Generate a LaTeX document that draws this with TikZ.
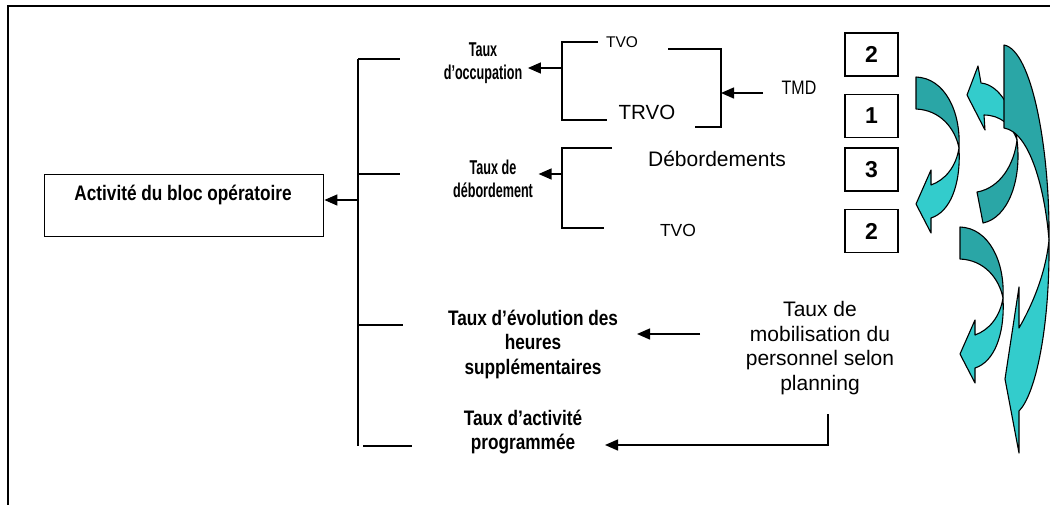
\documentclass[tikz,border=0pt]{standalone}
\usepackage{fontspec}
\setmainfont{Liberation Sans}
\newfontfamily\narrowfont[FakeStretch=0.82]{Liberation Sans}
\newfontfamily\condfont[FakeStretch=0.63]{Liberation Sans}
\usetikzlibrary{arrows.meta}
\definecolor{tealdark}{RGB}{42,166,166}
\definecolor{teallight}{RGB}{51,204,204}

\tikzset{
  curlarrow/.pic={
    % back face
    \filldraw[fill=tealdark,flap] (0,0) .. controls (29,1) and (45,35) .. (43,71)
      .. controls (39,51) and (24,33) .. (0,32) -- cycle;
    % front face with head
    \filldraw[fill=teallight,flap] (43,71) .. controls (45,108) and (34,135) .. (15,141)
      -- (15,156) -- (0,127) -- (15,93) -- (15,108)
      .. controls (29,103) and (40,90) .. (43,71) -- cycle;
  }
}

\begin{document}
\begin{tikzpicture}[x=1pt,y=-1pt,line width=1.4pt,
    lbl/.style={font=\narrowfont\bfseries\fontsize{21}{24.5}\selectfont,align=center,inner sep=0pt},
    small/.style={font=\condfont\bfseries\fontsize{20}{23}\selectfont,align=center,inner sep=0pt},
    txt/.style={font=\fontsize{21}{24.7}\selectfont,align=center,inner sep=0pt},
    numbox/.style={draw,line width=1.2pt,minimum width=53pt,minimum height=43pt,inner sep=0pt,
      font=\bfseries\fontsize{23}{23}\selectfont},
    arr/.style={-{Triangle[length=13pt,width=11pt]}},
    flap/.style={draw=black,line width=1.1pt,line join=round}]
  \useasboundingbox (0,0) rectangle (1050,504);

  % Frame
  \draw[line width=1.8pt] (8,520) -- (8,6) -- (1060,6);

  % Main box
  \node[draw,minimum width=279pt,minimum height=62pt,anchor=north west] (bloc) at (44,174) {};
  \node[lbl] (blocTxt) at (183,195) {Activité du bloc opératoire};

  % Spine
  \coordinate (sTop) at (358,59);
  \coordinate (sBot) at (358,446);
  \coordinate (s0) at (358,200);
  \draw (sTop) -- (sBot);
  \draw (sTop) -- ++(42,0);
  \draw (358,174) -- ++(42,0);
  \draw (358,325) -- ++(45,0);
  \draw (363,446) -- ++(49,0);
  \draw[arr] (s0) -- (s0 -| bloc.east);

  % Indicators
  \node[small] (occ) at (483,63.5) {Taux\\d’occupation};
  \node[small] (deb) at (493,179) {Taux de\\débordement};
  \node[lbl] (evol) at (533,344) {Taux d’évolution des\\heures\\supplémentaires};
  \node[lbl] (act) at (523,432) {Taux d’activité\\programmée};

  % Occupation bracket
  \coordinate (b1mid) at (562,68);
  \draw (598,42) -- (562,42) -- (562,120) -- (607,120);
  \draw[arr] (b1mid) -- ([xshift=5pt]occ.east |- b1mid);
  \node[font=\fontsize{15.5}{18}\selectfont] (tvoA) at (622,42) {TVO};
  \node[font=\fontsize{20.5}{24}\selectfont] (trvo) at (647,112) {TRVO};

  % TMD bracket
  \coordinate (b2mid) at (721,93);
  \coordinate (tmdOut) at (763,93);
  \draw (668,49) -- (721,49) -- (721,127) -- (695,127);
  \node[font=\narrowfont\fontsize{19.5}{22}\selectfont] (tmd) at (799,88) {TMD};
  \draw[arr] (tmdOut) -- (b2mid);

  % Debordement bracket
  \coordinate (b3mid) at (562,174);
  \draw (612,148) -- (562,148) -- (562,228) -- (604,228);
  \draw[arr] (b3mid) -- ([xshift=5pt]deb.east |- b3mid);
  \node[txt] (debs) at (717,159) {Débordements};
  \node[font=\fontsize{17.5}{20}\selectfont] (tvoB) at (678,230) {TVO};

  % Mobilisation
  \node[txt] (mob) at (820,348) {Taux de\\mobilisation du\\personnel selon\\planning};
  \coordinate (mobL) at (700,334);
  \coordinate (mobFoot) at (828,414);
  \coordinate (actIn) at (605,445);
  \draw[arr] (mobL) -- (637,334);
  \draw[arr] (mobFoot) |- (actIn);

  % Rank boxes
  \node[numbox] (r1) at (871.5,54.5) {2};
  \node[numbox] (r2) at (871.5,116) {1};
  \node[numbox] (r3) at (871.5,169.5) {3};
  \node[numbox] (r4) at (871.5,231) {2};

  % Curved arrows
  \pic at (916,77) {curlarrow};
  \pic at (960,227) {curlarrow};

  % middle arrow, twisted
  \filldraw[fill=teallight,flap] (967,95) -- (978,66) -- (981,83)
    .. controls (1000,85) and (1014,110) .. (1017,140)
    .. controls (1012,125) and (1000,115) .. (984,115) -- (985,130) -- cycle;
  \filldraw[fill=tealdark,flap] (1017,140) .. controls (1022,180) and (1008,218) .. (983,223)
    -- (977,192) .. controls (1000,188) and (1014,165) .. (1017,140) -- cycle;

  % big arrow
  \filldraw[fill=tealdark,flap] (1004,45) .. controls (1032,50) and (1050,150) .. (1049,240)
    .. controls (1045,190) and (1030,132) .. (1004,128) -- cycle;
  \filldraw[fill=teallight,flap] (1049,240) .. controls (1050,330) and (1035,395) .. (1019,411)
    -- (1019,453) -- (1005,379) -- (1019,287) -- (1019,328)
    .. controls (1035,300) and (1046,270) .. (1049,240) -- cycle;
\end{tikzpicture}
\end{document}
